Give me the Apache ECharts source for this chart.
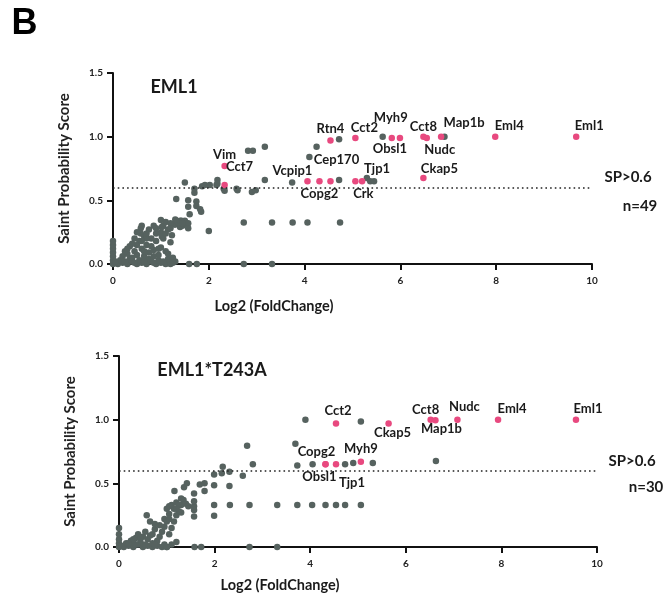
<!DOCTYPE html>
<html>
<head>
<meta charset="utf-8">
<script src="https://cdn.jsdelivr.net/npm/echarts@6/dist/echarts.min.js"></script>
<style>
  html, body { margin: 0; background: #fff; }
  #chart { width: 668px; height: 597px; }
</style>
</head>
<body>
<div id="chart"></div>
<script>
// EML1 - gray (below threshold / unlabeled) points [log2FC, SP]
var eml1Gray = [
  [0, 0], [0, 0.03], [0, 0.06], [0, 0.09], [0, 0.12], [0, 0.15], [0, 0.18],
  [0.1, 0], [0.2, 0.01], [0.3, 0], [0.4, 0.02], [0.5, 0], [0.6, 0.01], [0.7, 0], [0.8, 0.02],
  [0.9, 0], [1.0, 0.01], [1.1, 0], [1.2, 0], [1.3, 0.02], [0.15, 0.03], [0.35, 0.04], [0.55, 0.03],
  [0.75, 0.04], [0.95, 0.03], [1.15, 0.04], [0.2, 0.06], [0.3, 0.08], [0.4, 0.05], [0.45, 0.1],
  [0.5, 0.07], [0.6, 0.12], [0.65, 0.06], [0.7, 0.15], [0.75, 0.09], [0.8, 0.2], [0.85, 0.11],
  [0.9, 0.18], [0.95, 0.07], [1.0, 0.25], [1.0, 0.13], [1.05, 0.3], [1.05, 0.2], [1.1, 0.1],
  [1.15, 0.27], [1.2, 0.17], [1.25, 0.05], [0.55, 0.18], [0.65, 0.22], [0.75, 0.27], [0.58, 0.28],
  [0.58, 0.24], [0.85, 0.3], [0.9, 0.24], [1.3, 0.31], [1.35, 0.33], [1.4, 0.29], [1.45, 0.3],
  [1.5, 0.34], [1.55, 0.31], [1.23, 0.225], [1.28, 0.31], [1.36, 0.325], [1.43, 0.34],
  [1.57, 0.32], [1.57, 0.28], [1.6, 0.39], [1.57, 0.45], [1.57, 0.5], [1.74, 0.49], [1.74, 0.455],
  [1.82, 0.43], [1.84, 0.41], [1.32, 0.51], [1.0, 0.345], [1.02, 0.29], [1.02, 0.215], [1.1, 0.33],
  [1.2, 0.32], [0.6, 0.3], [0.5, 0.25], [0.45, 0.2], [0.35, 0.14], [0.25, 0.1], [2.0, 0.26],
  [0.05, 0.02], [0.25, 0.02], [0.45, 0.01], [0.65, 0.02], [0.85, 0.01], [1.05, 0.02], [1.25, 0.01],
  [0.3, 0.12], [0.5, 0.15], [0.7, 0.2], [0.4, 0.16], [0.6, 0.18], [0.8, 0.14], [0.7, 0.24],
  [0.9, 0.28], [1.1, 0.24], [1.2, 0.28], [0.95, 0.12], [1.15, 0.08], [0.85, 0.06], [0.65, 0.1],
  [1.4, 0.34], [1.45, 0.32], [1.3, 0.35],
  [1.5, 0.64], [1.7, 0.59], [1.7, 0.56], [1.86, 0.61], [1.92, 0.62], [2.02, 0.62], [2.16, 0.62],
  [2.18, 0.66], [2.18, 0.63], [2.31, 0.59], [2.33, 0.575], [2.6, 0.58], [2.58, 0.59], [2.9, 0.565],
  [2.98, 0.58], [3.17, 0.66], [1.59, 0], [1.75, 0], [2.73, 0], [3.32, 0],
  [2.73, 0.325], [3.32, 0.325], [3.75, 0.325], [4.06, 0.325], [4.74, 0.325],
  [2.82, 0.89], [2.92, 0.89], [3.17, 0.92], [4.25, 0.92], [4.72, 0.98], [4.1, 0.84], [4.72, 0.66],
  [3.74, 0.64], [5.3, 0.675], [5.37, 0.65], [5.45, 0.65], [5.63, 1.0], [6.92, 1.0]
];
// EML1 - pink hits [log2FC, SP, gene]
var eml1Pink = [
  [2.33, 0.77, 'Vim'], [2.33, 0.62, 'Cct7'], [4.54, 0.97, 'Rtn4'], [5.06, 0.99, 'Cct2'],
  [4.06, 0.65, 'Vcpip1'], [4.31, 0.65, 'Copg2'], [4.54, 0.65, 'Cep170'], [5.06, 0.65, 'Crk'],
  [5.2, 0.65, 'Tjp1'], [5.82, 0.99, 'Myh9'], [5.99, 0.99, 'Obsl1'], [6.48, 1.0, 'Cct8'],
  [6.55, 0.99, 'Nudc'], [6.85, 1.0, 'Map1b'], [7.98, 1.0, 'Eml4'], [9.67, 1.0, 'Eml1'],
  [6.48, 0.675, 'Ckap5']
];
// EML1*T243A
var t243aGray = [
  [0, 0], [0, 0.03], [0, 0.06], [0, 0.1], [0, 0.15],
  [0.1, 0], [0.2, 0.01], [0.3, 0], [0.4, 0.02], [0.5, 0], [0.6, 0.01], [0.7, 0], [0.8, 0.01],
  [0.9, 0], [1.0, 0], [1.1, 0.02], [0.15, 0.03], [0.25, 0.05], [0.35, 0.07], [0.4, 0.1],
  [0.45, 0.04], [0.5, 0.08], [0.55, 0.12], [0.6, 0.06], [0.65, 0.2], [0.58, 0.25], [0.7, 0.1],
  [0.75, 0.14], [0.8, 0.05], [0.85, 0.17], [0.9, 0.12], [0.95, 0.22], [1.0, 0.2], [1.0, 0.3],
  [1.05, 0.26], [1.1, 0.33], [1.1, 0.15], [1.15, 0.3], [1.2, 0.35], [1.25, 0.28], [1.3, 0.33],
  [1.35, 0.37], [1.4, 0.34], [1.45, 0.32], [1.2, 0.25], [1.16, 0.44], [1.36, 0.47], [1.42, 0.5],
  [0.3, 0.03], [0.7, 0.03], [1.2, 0.04],
  [0.05, 0.01], [0.2, 0.03], [0.35, 0.02], [0.55, 0.02], [0.75, 0.02], [0.95, 0.02], [0.45, 0.07],
  [0.65, 0.09], [0.85, 0.08], [1.05, 0.1], [0.75, 0.18], [0.95, 0.16], [1.05, 0.22], [1.15, 0.2],
  [1.25, 0.33], [1.3, 0.38], [1.05, 0.32], [1.2, 0.3], [1.3, 0.27], [0.3, 0.06],
  [1.57, 0.24], [1.57, 0.29], [1.57, 0.32], [1.57, 0.36], [1.57, 0.42],
  [1.69, 0.49], [1.79, 0.5], [1.79, 0.44], [1.99, 0.485], [2.31, 0.48], [1.99, 0.245],
  [1.99, 0.57], [2.15, 0.58], [2.17, 0.63], [2.31, 0.59], [2.59, 0.56], [2.8, 0.65], [2.68, 0.795],
  [1.0, 0], [1.58, 0], [1.72, 0], [2.73, 0], [3.31, 0],
  [1.99, 0.33], [2.32, 0.33], [2.73, 0.33], [3.31, 0.33], [3.73, 0.33], [4.04, 0.33],
  [4.32, 0.33], [4.54, 0.33], [4.73, 0.33], [5.06, 0.33],
  [3.69, 0.81], [3.9, 1.0], [5.06, 0.985], [3.73, 0.64], [4.05, 0.65], [4.73, 0.65],
  [4.9, 0.66], [5.31, 0.66], [6.63, 0.675]
];
var t243aPink = [
  [4.54, 0.97, 'Cct2'], [4.32, 0.65, 'Copg2'], [4.32, 0.65, 'Obsl1'], [4.54, 0.65, 'Tjp1'],
  [5.06, 0.67, 'Myh9'], [5.64, 0.97, 'Ckap5'], [6.52, 1.0, 'Cct8'], [6.62, 0.995, 'Map1b'],
  [7.08, 1.0, 'Nudc'], [7.93, 1.0, 'Eml4'], [9.56, 1.0, 'Eml1']
];
var threshold = 0.6;

// label offsets (px) relative to each pink dot
var offTop = {
  Vim: [0, -11], Cct7: [15, -18], Rtn4: [0, -12], Cct2: [9, -10], Vcpip1: [-15, -10],
  Copg2: [0, 13], Cep170: [6, -21], Crk: [8, 13], Tjp1: [15, -12], Myh9: [-1, -20],
  Obsl1: [-10, 11], Cct8: [0, -10], Nudc: [13, 12], Map1b: [23, -14], Eml4: [14, -11],
  Eml1: [13, -11], Ckap5: [16, -9]
};
var offBot = {
  Cct2: [2, -13], Copg2: [-9, -12], Obsl1: [-6, 13], Tjp1: [16, 19], Myh9: [0, -13],
  Ckap5: [4, 9], Cct8: [-5, -10], Map1b: [6, 9], Nudc: [7, -13], Eml4: [14, -11], Eml1: [12, -11]
};

var FONT = 'Lato';
var GRAY = '#56625f';
var PINK = '#e8497f';

function xAxisOf (gi) {
  return {
    gridIndex: gi, type: 'value', min: 0, max: 10, interval: 2,
    axisLine: { lineStyle: { color: '#111', width: 2 } },
    axisTick: { length: 6, lineStyle: { color: '#111', width: 2 } },
    axisLabel: { margin: 12, color: '#222', fontSize: 10, fontWeight: 'bold', fontFamily: FONT },
    splitLine: { show: false }
  }
}
function yAxisOf (gi) {
  return {
    gridIndex: gi, type: 'value', min: 0, max: 1.5, interval: 0.5,
    name: 'Saint Probability Score', nameLocation: 'middle', nameGap: 41,
    nameTextStyle: { color: '#222', fontSize: 15, fontWeight: 'bold', fontFamily: FONT },
    axisLine: { show: true, lineStyle: { color: '#111', width: 2 } },
    axisTick: { show: true, length: 6, lineStyle: { color: '#111', width: 2 } },
    axisLabel: { margin: 10, color: '#222', fontSize: 10, fontWeight: 'bold', fontFamily: FONT,
      formatter: function (v) { return v.toFixed(1) } },
    splitLine: { show: false }
  }
}
function grayS (gi, arr) {
  return {
    type: 'scatter', xAxisIndex: gi, yAxisIndex: gi, data: arr, symbolSize: 6.5, clip: false,
    itemStyle: { color: GRAY, opacity: 1 }, z: 2,
    markLine: {
      silent: true, symbol: 'none', label: { show: false },
      lineStyle: { color: '#222', width: 1.6, type: [1.6, 3.1] },
      data: [{ yAxis: threshold }]
    }
  }
}
function pinkS (gi, arr, offs) {
  return {
    type: 'scatter', xAxisIndex: gi, yAxisIndex: gi, symbolSize: 6.5, clip: false, z: 3,
    itemStyle: { color: PINK, opacity: 1 },
    data: arr.map(function (d) {
      return {
        value: [d[0], d[1]], name: d[2],
        label: { show: true, position: 'inside', offset: offs[d[2]], formatter: d[2] }
      }
    }),
    label: { color: '#1a1a1a', fontSize: 13, fontWeight: 'bold', fontFamily: FONT }
  }
}
function txt (x, y, s, size) {
  return {
    type: 'text', x: x, y: y,
    style: { text: s, fontSize: size, fontWeight: 'bold', fontFamily: FONT, fill: '#1a1a1a',
      align: 'center', verticalAlign: 'middle' }
  }
}

var chart = echarts.init(document.getElementById('chart'))
chart.setOption({
  backgroundColor: '#fff',
  animation: false,
  grid: [
    { left: 113, top: 73, width: 479, height: 191 },
    { left: 119, top: 356, width: 478, height: 191 }
  ],
  xAxis: [xAxisOf(0), xAxisOf(1)],
  yAxis: [yAxisOf(0), yAxisOf(1)],
  series: [
    grayS(0, eml1Gray), pinkS(0, eml1Pink, offTop),
    grayS(1, t243aGray), pinkS(1, t243aPink, offBot)
  ],
  graphic: [
    { type: 'text', x: 24.5, y: 24, style: { text: 'B', fontSize: 36, fontWeight: 'bold',
      fontFamily: 'Liberation Sans', fill: '#000', align: 'center', verticalAlign: 'middle' } },
    txt(174, 87, 'EML1', 18),
    txt(212, 370, 'EML1*T243A', 18),
    txt(274, 306, 'Log2 (FoldChange)', 14.5),
    txt(280, 585, 'Log2 (FoldChange)', 14.5),
    txt(628, 177, 'SP>0.6', 15),
    txt(640, 206, 'n=49', 15),
    txt(632, 461, 'SP>0.6', 15),
    txt(646, 487, 'n=30', 15)
  ]
})
</script>
</body>
</html>
